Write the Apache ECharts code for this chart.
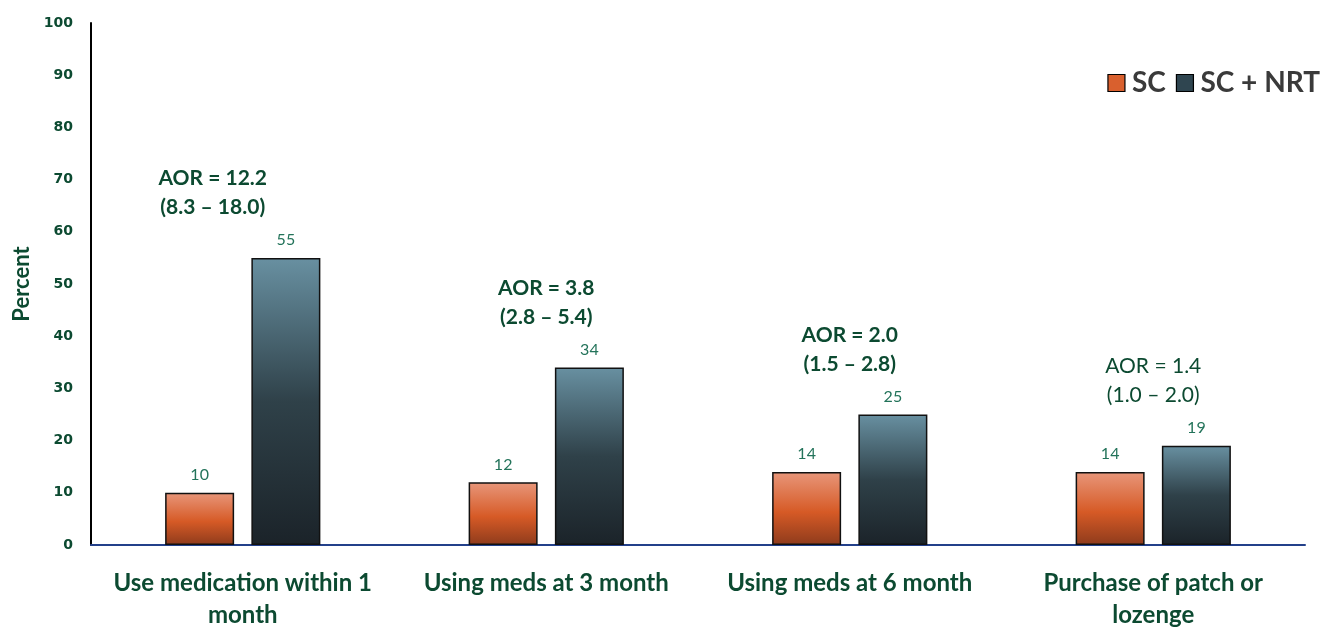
<!DOCTYPE html>
<html>
<head>
<meta charset="utf-8">
<script src="https://cdn.jsdelivr.net/npm/echarts@6/dist/echarts.min.js"></script>
<style>
  html, body { margin: 0; padding: 0; background: #fff; }
  #chart { width: 1325px; height: 628px; }
</style>
</head>
<body>
<div id="chart"></div>
<script>
// Outcome categories (x axis)
const categories = [
  'Use medication within 1\nmonth',
  'Using meds at 3 month',
  'Using meds at 6 month',
  'Purchase of patch or\nlozenge'
];
// Percent per group
const scValues = [10, 12, 14, 14];
const nrtValues = [55, 34, 25, 19];
// Adjusted odds ratios with 95% CI
const aorText = ['AOR = 12.2', 'AOR = 3.8', 'AOR = 2.0', 'AOR = 1.4'];
const ciText = ['(8.3 – 18.0)', '(2.8 – 5.4)', '(1.5 – 2.8)', '(1.0 – 2.0)'];
const aorBold = [true, true, true, false];
// Y axis ticks
const yTicks = { min: 0, max: 100, step: 10 };

const FONT = 'Lato, "DejaVu Sans", sans-serif';
const TICK_FONT = '"DejaVu Sans", sans-serif';
const GREEN = '#0c4a31';
const VALUE_GREEN = '#23735a';

const scFill = new echarts.graphic.LinearGradient(0, 0, 0, 1, [
  { offset: 0, color: '#e8967a' },
  { offset: 0.55, color: '#d65a26' },
  { offset: 1, color: '#8e3b1c' }
]);
const nrtFill = new echarts.graphic.LinearGradient(0, 0, 0, 1, [
  { offset: 0, color: '#6890a1' },
  { offset: 0.5, color: '#2f4149' },
  { offset: 1, color: '#1b2329' }
]);

const chart = echarts.init(document.getElementById('chart'));
chart.setOption({
  animation: false,
  backgroundColor: '#ffffff',
  textStyle: { fontFamily: FONT },
  grid: { left: 91, right: 20, top: 23, bottom: 83, outerBoundsMode: 'none', containLabel: false },
  legend: {
    right: 0, top: 64, icon: 'rect',
    itemWidth: 17, itemHeight: 17, itemGap: 10,
    textStyle: { fontSize: 28, fontWeight: 'bold', color: '#3a3a3a', fontFamily: FONT, padding: [0, 0, 0, 2] },
    data: [
      { name: 'SC', itemStyle: { color: '#d9602e', borderColor: '#000', borderWidth: 1.2 } },
      { name: 'SC + NRT', itemStyle: { color: '#2f4550', borderColor: '#000', borderWidth: 1.2 } }
    ]
  },
  xAxis: {
    type: 'category',
    data: categories,
    axisLine: { show: true, lineStyle: { color: '#23408a', width: 2 } },
    axisTick: { show: false },
    axisLabel: {
      margin: 22, fontSize: 24, fontWeight: 'bold', color: GREEN,
      lineHeight: 32, fontFamily: FONT, interval: 0
    }
  },
  yAxis: {
    type: 'value',
    min: yTicks.min, max: yTicks.max, interval: yTicks.step,
    name: 'Percent',
    nameLocation: 'middle',
    nameGap: 58,
    nameRotate: 90,
    nameTextStyle: { fontSize: 22, fontWeight: 'bold', color: GREEN, fontFamily: FONT },
    splitLine: { show: false },
    axisLine: { show: true, lineStyle: { color: '#000', width: 2 } },
    axisTick: { show: false },
    axisLabel: { margin: 18, fontSize: 14, fontWeight: 'bold', color: GREEN, fontFamily: TICK_FONT }
  },
  series: [
    {
      name: 'SC', type: 'bar', data: scValues,
      barWidth: 69, barGap: '25%',
      itemStyle: { color: scFill, borderColor: '#111', borderWidth: 1.5 },
      label: { show: true, position: 'top', distance: 10, fontSize: 16, color: VALUE_GREEN, fontFamily: FONT }
    },
    {
      name: 'SC + NRT', type: 'bar', data: nrtValues,
      barWidth: 69,
      itemStyle: { color: nrtFill, borderColor: '#111', borderWidth: 1.5 },
      label: { show: true, position: 'top', distance: 10, fontSize: 16, color: VALUE_GREEN, fontFamily: FONT }
    },
    {
      // Odds-ratio annotations anchored at the category centre, above the NRT bar height
      name: 'AOR', type: 'scatter', symbolSize: 0, silent: true,
      itemStyle: { opacity: 1 },
      data: nrtValues.map((v, i) => ({
        value: v,
        label: {
          offset: i === 0 ? [-30, 0] : [0, 0],
          fontWeight: aorBold[i] ? 'bold' : 'normal'
        }
      })),
      label: {
        show: true, position: 'top', distance: 36, opacity: 1,
        fontSize: 21, lineHeight: 29, color: GREEN, fontFamily: FONT, align: 'center',
        formatter: p => aorText[p.dataIndex] + '\n' + ciText[p.dataIndex]
      },
      tooltip: { show: false }
    }
  ]
});
</script>
</body>
</html>
